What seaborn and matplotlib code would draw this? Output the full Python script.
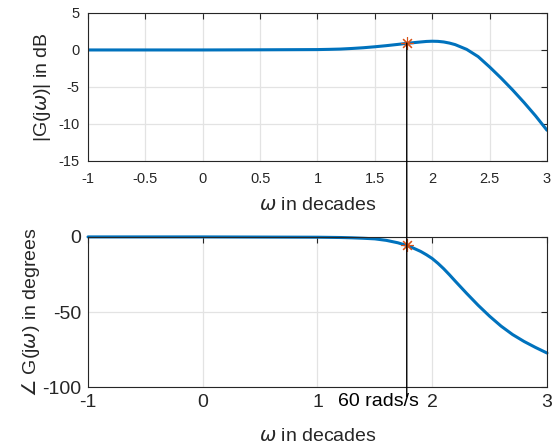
import numpy as np
import pandas as pd
import matplotlib
matplotlib.use("Agg")
import matplotlib.pyplot as plt
from matplotlib.patches import ConnectionPatch
import seaborn as sns

# frequency in decades (log10 of rad/s)
decades = [-1.0, -0.5, 0.0, 0.5, 1.0, 1.1, 1.2, 1.3, 1.4, 1.5, 1.6, 1.7, 1.8, 1.9,
           1.95, 2.0, 2.05, 2.1, 2.15, 2.2, 2.3, 2.4, 2.5, 2.6, 2.7, 2.8, 2.9, 3.0]
# |G(jw)| in dB
mag_db = [0.0, 0.0, 0.0, 0.02, 0.05, 0.08, 0.12, 0.2, 0.3, 0.43, 0.58, 0.75, 0.93, 1.08,
          1.15, 1.18, 1.16, 1.08, 0.93, 0.72, 0.08, -0.9, -2.3, -3.8, -5.4, -7.1, -8.9, -10.85]
# phase in degrees
phase_deg = [0.0, 0.0, 0.0, -0.1, -0.2, -0.3, -0.4, -0.6, -0.9, -1.3, -2.3, -3.9, -6.2, -9.7,
             -11.9, -14.4, -17.6, -21.2, -25.2, -29.4, -37.6, -45.5, -52.8, -59.4, -65.0,
             -69.6, -73.6, -77.3]

# marked frequency: 60 rad/s
mark_x = 1.778
mark_mag = 0.93
mark_phase = -5.6
mark_label = "60 rads/s"

df = pd.DataFrame({"w": decades, "mag": mag_db, "phase": phase_deg})

sns.set_style("white")
plt.rcParams['font.family'] = ['Liberation Sans', 'DejaVu Sans']
plt.rcParams['mathtext.fontset'] = 'dejavusans'

blue = "#0072BD"
orange = "#D95319"
edge = "#262626"
gridc = "#e3e3e3"

fig = plt.figure(figsize=(5.57, 4.47), dpi=100)
ax1 = fig.add_axes([0.158, 0.640, 0.824, 0.331])
ax2 = fig.add_axes([0.158, 0.134, 0.824, 0.336])

for ax in (ax1, ax2):
    for s in ax.spines.values():
        s.set_color(edge)
        s.set_linewidth(0.8)
    ax.tick_params(direction="in", top=True, right=True, color=edge, length=4,
                   labelcolor=edge)
    ax.grid(True, color=gridc, linewidth=0.9)
    ax.set_axisbelow(True)

# magnitude
sns.lineplot(data=df, x="w", y="mag", ax=ax1, color=blue, linewidth=2.2)
ax1.plot([mark_x], [mark_mag], marker=(8, 2, 0), color=orange, markersize=9,
         markeredgewidth=0.8, linestyle="none", zorder=5)
ax1.set_xlim(-1, 3)
ax1.set_ylim(-15, 5)
ax1.set_xticks(np.arange(-1, 3.01, 0.5))
ax1.set_xticklabels(["-1", "-0.5", "0", "0.5", "1", "1.5", "2", "2.5", "3"])
ax1.set_yticks([-15, -10, -5, 0, 5])
ax1.set_yticklabels(["-15", "-10", "-5", "0", "5"])
ax1.tick_params(axis="x", labelsize=10.5, pad=8)
ax1.tick_params(axis="y", labelsize=10.5, pad=6)
ax1.set_xlabel(r"$\omega$ in decades", fontsize=14, color=edge, labelpad=8)
ax1.set_ylabel(r"|G(j$\omega$)| in dB", fontsize=14, color=edge, labelpad=4)

# phase
sns.lineplot(data=df, x="w", y="phase", ax=ax2, color=blue, linewidth=2.2, clip_on=False)
ax2.plot([mark_x], [mark_phase], marker=(8, 2, 0), color=orange, markersize=9,
         markeredgewidth=0.8, linestyle="none", zorder=5)
ax2.set_xlim(-1, 3)
ax2.set_ylim(-100, 0)
ax2.set_xticks([-1, 0, 1, 2, 3])
ax2.set_xticklabels(["-1", "0", "1", "2", "3"])
ax2.set_yticks([-100, -50, 0])
ax2.set_yticklabels(["-100", "-50", "0"])
ax2.tick_params(labelsize=14, pad=5)
ax2.set_xlabel(r"$\omega$ in decades", fontsize=14, color=edge, labelpad=12)
ax2.set_ylabel(r"$\angle$ G(j$\omega$) in degrees", fontsize=14, color=edge, labelpad=0)

ax2.text(1.53, -104, mark_label, fontsize=14, color="black", ha="center", va="top")

# vertical guide line from the marker down past the lower axes
con = ConnectionPatch(xyA=(mark_x, mark_mag), coordsA=ax1.transData,
                      xyB=(mark_x, -106.5), coordsB=ax2.transData,
                      color="black", linewidth=1.0, zorder=4)
fig.add_artist(con)

fig.savefig("out.png", dpi=100)
